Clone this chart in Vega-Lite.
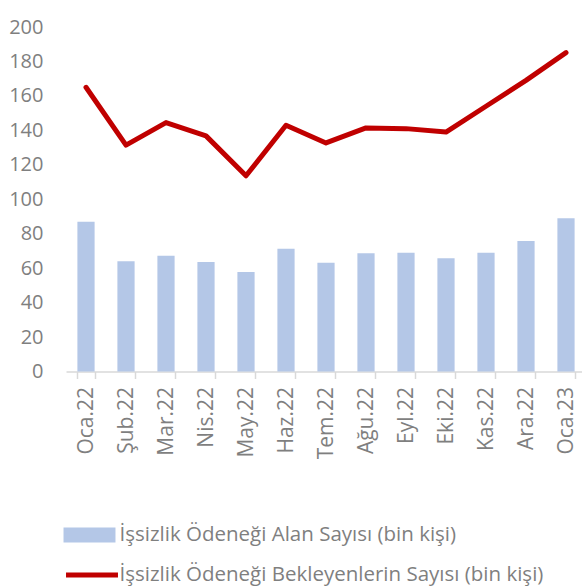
{
  "$schema": "https://vega.github.io/schema/vega-lite/v6.json",
  "width": 516,
  "height": 344.5,
  "autosize": {"type": "none"},
  "padding": {"left": 66, "top": 27, "right": 0, "bottom": 214.5},
  "background": "white",
  "config": {"view": {"stroke": null}, "font": "Open Sans"},
  "data": {
    "values": [
      {"ay": "Oca.22", "alan": 87, "bekleyen": 165},
      {"ay": "Şub.22", "alan": 64, "bekleyen": 131.4},
      {"ay": "Mar.22", "alan": 67.2, "bekleyen": 144.5},
      {"ay": "Nis.22", "alan": 63.5, "bekleyen": 136.8},
      {"ay": "May.22", "alan": 57.8, "bekleyen": 113.6},
      {"ay": "Haz.22", "alan": 71.3, "bekleyen": 143},
      {"ay": "Tem.22", "alan": 63.2, "bekleyen": 132.7},
      {"ay": "Ağu.22", "alan": 68.6, "bekleyen": 141.4},
      {"ay": "Eyl.22", "alan": 69, "bekleyen": 141},
      {"ay": "Eki.22", "alan": 65.8, "bekleyen": 139},
      {"ay": "Kas.22", "alan": 68.9, "bekleyen": 154},
      {"ay": "Ara.22", "alan": 75.8, "bekleyen": 169},
      {"ay": "Oca.23", "alan": 89, "bekleyen": 185.1}
    ]
  },
  "encoding": {
    "x": {
      "field": "ay",
      "type": "ordinal",
      "sort": null,
      "scale": {"range": [0, 520], "paddingInner": 0.57, "paddingOuter": 0.285},
      "axis": {
        "title": null,
        "domainColor": "#D9D9D9",
        "domainWidth": 1.5,
        "tickColor": "#D9D9D9",
        "tickWidth": 1.5,
        "tickSize": 7,
        "tickBand": "extent",
        "labelAngle": -90,
        "labelAlign": "right",
        "labelBaseline": "middle",
        "labelFontSize": 21,
        "labelColor": "#7F7F7F",
        "labelPadding": 8,
        "labelOverlap": false
      }
    }
  },
  "layer": [
    {
      "mark": {"type": "bar", "color": "#B4C7E7"},
      "encoding": {
        "y": {
          "field": "alan",
          "type": "quantitative",
          "scale": {"domain": [0, 200]},
          "axis": {
            "title": null,
            "domain": false,
            "ticks": false,
            "grid": false,
            "values": [0, 20, 40, 60, 80, 100, 120, 140, 160, 180, 200],
            "labelOverlap": false,
            "labelFontSize": 20,
            "labelColor": "#7F7F7F",
            "labelPadding": 23
          }
        },
        "fill": {
          "datum": "İşsizlik Ödeneği Alan Sayısı (bin kişi)",
          "scale": {"range": ["#B4C7E7"]},
          "legend": {
            "title": null,
            "orient": "none",
            "legendX": -2.5,
            "legendY": 482,
            "padding": 0,
            "symbolType": "M-1,-0.285H1V0.285H-1Z",
            "symbolSize": 2700,
            "symbolStrokeWidth": 0,
            "labelFontSize": 20.5,
            "labelColor": "#7F7F7F",
            "labelOffset": 4,
            "labelLimit": 600
          }
        }
      }
    },
    {
      "mark": {"type": "line", "color": "#C00000", "strokeWidth": 5, "strokeCap": "round", "strokeJoin": "round"},
      "encoding": {
        "y": {
          "field": "bekleyen",
          "type": "quantitative",
          "scale": {"domain": [0, 200]},
          "axis": {
            "title": null,
            "domain": false,
            "ticks": false,
            "grid": false,
            "values": [0, 20, 40, 60, 80, 100, 120, 140, 160, 180, 200],
            "labelOverlap": false,
            "labelFontSize": 20,
            "labelColor": "#7F7F7F",
            "labelPadding": 23
          }
        },
        "stroke": {
          "datum": "İşsizlik Ödeneği Bekleyenlerin Sayısı (bin kişi)",
          "scale": {"range": ["#C00000"]},
          "legend": {
            "title": null,
            "orient": "none",
            "legendX": -2.5,
            "legendY": 519.6,
            "padding": 0,
            "symbolType": "stroke",
            "symbolSize": 2700,
            "symbolStrokeWidth": 5,
            "labelFontSize": 20.5,
            "labelColor": "#7F7F7F",
            "labelOffset": -1,
            "labelLimit": 600
          }
        }
      }
    }
  ]
}
